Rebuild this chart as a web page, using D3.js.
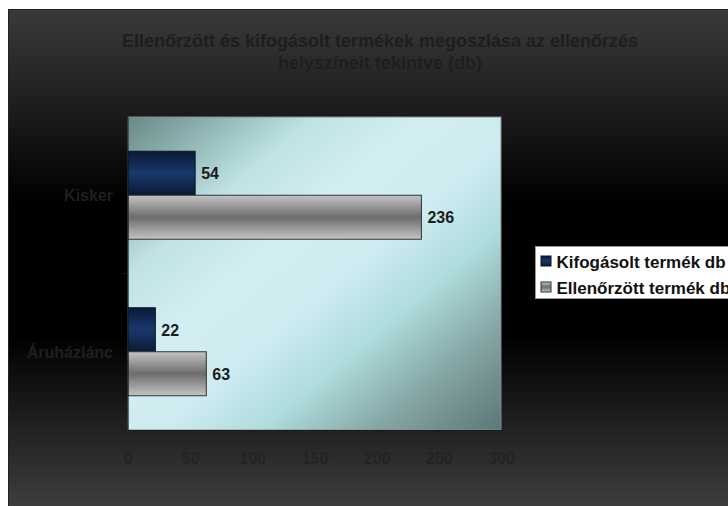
<!DOCTYPE html>
<meta charset="utf-8">
<script src="https://d3js.org/d3.v7.js"></script>
<style>
  body { margin: 0; background: #fff; }
  text { font-family: "Liberation Sans", Arial, sans-serif; font-weight: bold; }
</style>
<body>
<div id="chart"></div>
<script>
  // data
  const categories = ["Kisker", "Áruházlánc"];
  const series = ["Kifogásolt termék db", "Ellenőrzött termék db"];
  const kifogasolt = [54, 22];
  const ellenorzott = [236, 63];
  const xTicks = [0, 50, 100, 150, 200, 250, 300];

  const width = 728, height = 506;
  const plot = { left: 128, top: 117, right: 501, bottom: 430 };

  const svg = d3.select("#chart").append("svg")
    .attr("width", width)
    .attr("height", height);

  const defs = svg.append("defs");

  const bg = defs.append("linearGradient").attr("id", "bg")
    .attr("x1", 0).attr("y1", 0).attr("x2", 0).attr("y2", 1);
  [[0, "#3a3a3a"], [0.38, "#000"], [0.64, "#000"], [1, "#424242"]]
    .forEach(s => bg.append("stop").attr("offset", s[0]).attr("stop-color", s[1]));

  const pg = defs.append("linearGradient").attr("id", "plotbg")
    .attr("x1", 0).attr("y1", 0).attr("x2", 1).attr("y2", 1);
  [[0, "#6a8887"], [0.12, "#8fb4b3"], [0.25, "#bfe3e4"], [0.4, "#d3eef3"],
   [0.55, "#cdebf0"], [0.68, "#aedcdc"], [0.83, "#86a6a6"], [1, "#5c7676"]]
    .forEach(s => pg.append("stop").attr("offset", s[0]).attr("stop-color", s[1]));

  const navy = defs.append("linearGradient").attr("id", "navy")
    .attr("x1", 0).attr("y1", 0).attr("x2", 0).attr("y2", 1);
  [[0, "#0a1a36"], [0.5, "#18386c"], [1, "#0a1a36"]]
    .forEach(s => navy.append("stop").attr("offset", s[0]).attr("stop-color", s[1]));

  const gray = defs.append("linearGradient").attr("id", "gray")
    .attr("x1", 0).attr("y1", 0).attr("x2", 0).attr("y2", 1);
  [[0, "#c4c4c4"], [0.5, "#6c6c6c"], [1, "#c4c4c4"]]
    .forEach(s => gray.append("stop").attr("offset", s[0]).attr("stop-color", s[1]));

  const fills = ["url(#navy)", "url(#gray)"];
  const strokes = ["#0c1424", "#333"];

  // chart frame (cut off on the right like the original)
  svg.append("rect")
    .attr("x", 8.5).attr("y", 9.5)
    .attr("width", 743).attr("height", 510)
    .attr("fill", "url(#bg)")
    .attr("stroke", "#222");

  svg.append("text")
    .attr("x", 380).attr("text-anchor", "middle")
    .attr("fill", "#1e1e1e").style("font-size", "18px")
    .selectAll("tspan")
    .data(["Ellenőrzött és kifogásolt termékek megoszlása az ellenőrzés", "helyszíneit tekintve (db)"])
    .join("tspan")
      .attr("x", 380)
      .attr("y", (d, i) => 47 + i * 22)
      .text(d => d);

  // plot area
  svg.append("rect")
    .attr("x", plot.left).attr("y", plot.top)
    .attr("width", plot.right - plot.left).attr("height", plot.bottom - plot.top)
    .attr("fill", "url(#plotbg)")
    .attr("stroke", "#8a8a8a");

  const x = d3.scaleLinear().domain([0, 300]).range([plot.left, plot.right]);
  const y = d3.scaleBand().domain(categories)
    .range([plot.top, plot.bottom])
    .paddingInner(0.4377).paddingOuter(0.4377 / 2);
  const ySub = d3.scaleBand().domain(series).range([0, y.bandwidth()]);

  const rows = categories.map((c, i) => ({ cat: c, vals: [kifogasolt[i], ellenorzott[i]] }));

  const groups = svg.selectAll(".grp")
    .data(rows)
    .join("g")
      .attr("class", "grp")
      .attr("transform", d => `translate(0,${y(d.cat)})`);

  groups.selectAll("rect")
    .data(d => d.vals.map((v, j) => ({ v, s: series[j], j })))
    .join("rect")
      .attr("x", x(0))
      .attr("y", d => ySub(d.s))
      .attr("width", d => x(d.v) - x(0))
      .attr("height", ySub.bandwidth())
      .attr("fill", d => fills[d.j])
      .attr("stroke", d => strokes[d.j]);

  groups.selectAll("text")
    .data(d => d.vals.map((v, j) => ({ v, s: series[j] })))
    .join("text")
      .attr("x", d => x(d.v) + 6)
      .attr("y", d => ySub(d.s) + ySub.bandwidth() / 2)
      .attr("dy", "0.36em")
      .attr("fill", "#1c1c1c")
      .style("font-size", "16px")
      .text(d => d.v);

  // x axis
  const xAxis = svg.append("g")
    .attr("transform", `translate(0,${plot.bottom})`)
    .call(d3.axisBottom(x).tickValues(xTicks).tickSize(5).tickPadding(18));
  xAxis.select(".domain").attr("stroke", "#1a1a1a");
  xAxis.selectAll(".tick line").attr("stroke", "#1a1a1a");
  xAxis.selectAll("text")
    .attr("fill", "#232323")
    .style("font-size", "16px")
    .style("font-family", "'Liberation Sans', Arial, sans-serif")
    .style("font-weight", "bold");

  // y axis: line with ticks between categories, labels at band centres
  svg.append("line")
    .attr("x1", plot.left).attr("x2", plot.left)
    .attr("y1", plot.top).attr("y2", plot.bottom)
    .attr("stroke", "#1a1a1a");
  const step = y.step();
  svg.selectAll(".ytick")
    .data([plot.top, plot.top + step, plot.bottom])
    .join("line")
      .attr("class", "ytick")
      .attr("x1", plot.left - 6).attr("x2", plot.left)
      .attr("y1", d => d).attr("y2", d => d)
      .attr("stroke", "#1a1a1a");
  svg.selectAll(".ylab")
    .data(categories)
    .join("text")
      .attr("class", "ylab")
      .attr("x", plot.left - 15)
      .attr("y", d => y(d) + y.bandwidth() / 2)
      .attr("dy", "0.36em")
      .attr("text-anchor", "end")
      .attr("fill", "#1f1f1f")
      .style("font-size", "16px")
      .text(d => d);

  // legend
  const lg = svg.append("g").attr("transform", "translate(535.5,246.5)");
  lg.append("rect")
    .attr("width", 230).attr("height", 52)
    .attr("fill", "#fff").attr("stroke", "#999");
  const li = lg.selectAll(".li")
    .data(series)
    .join("g")
      .attr("class", "li")
      .attr("transform", (d, i) => `translate(0,${15 + i * 26})`);
  li.append("rect")
    .attr("x", 5.5).attr("y", -5.5)
    .attr("width", 10).attr("height", 10)
    .attr("fill", (d, i) => fills[i])
    .attr("stroke", (d, i) => strokes[i]);
  li.append("text")
    .attr("x", 21).attr("dy", "0.36em")
    .attr("fill", "#111")
    .style("font-size", "17px")
    .text(d => d);
</script>
</body>
